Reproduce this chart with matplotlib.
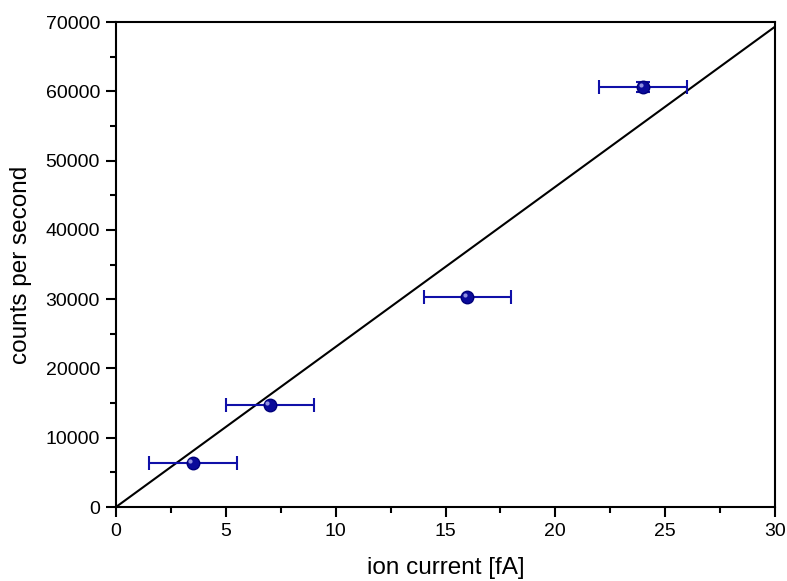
import numpy as np
import matplotlib
matplotlib.use("Agg")
import matplotlib.pyplot as plt
from matplotlib.ticker import MultipleLocator

plt.rcParams['font.family'] = ['Liberation Sans', 'DejaVu Sans']

current = [3.5, 7.0, 16.0, 24.0]
counts = [6300, 14700, 30300, 60600]
current_err = [2.0, 2.0, 2.0, 2.0]
counts_err = [0, 0, 0, 700]

# linear fit through the origin
x = np.array(current)
y = np.array(counts)
slope = np.sum(x * y) / np.sum(x * x)

fig = plt.figure(figsize=(7.87, 5.81), dpi=100)
ax = fig.add_axes([116/787, 1 - 507/581, (775-116)/787, (507-22)/581])

xf = np.array([0, 30])
ax.plot(xf, slope * xf, 'k-', lw=1.5, zorder=2)

ax.errorbar(current, counts, xerr=current_err, yerr=counts_err, fmt='none',
            ecolor='#1010a8', elinewidth=1.5, capsize=5, capthick=1.5, zorder=3)
ax.plot(current, counts, 'o', ms=9, mfc='#0a0a9a', mec='#00007a', mew=1, zorder=4)
ax.plot(np.array(current) - 0.12, np.array(counts) + 350, 'o', ms=3,
        mfc='#9090e0', mec='none', zorder=5)

ax.set_xlim(0, 30)
ax.set_ylim(0, 70000)
ax.xaxis.set_major_locator(MultipleLocator(5))
ax.xaxis.set_minor_locator(MultipleLocator(2.5))
ax.yaxis.set_major_locator(MultipleLocator(10000))
ax.yaxis.set_minor_locator(MultipleLocator(5000))

for s in ax.spines.values():
    s.set_linewidth(1.5)

ax.tick_params(which='both', direction='out', width=1.5, labelsize=14,
               top=False, right=False, pad=4)
ax.tick_params(which='major', length=7.5)
ax.tick_params(which='minor', length=4)

ax.set_xlabel('ion current [fA]', fontsize=17.5, labelpad=12)
ax.set_ylabel('counts per second', fontsize=17.5, labelpad=10)

fig.savefig('out.png', dpi=100)
